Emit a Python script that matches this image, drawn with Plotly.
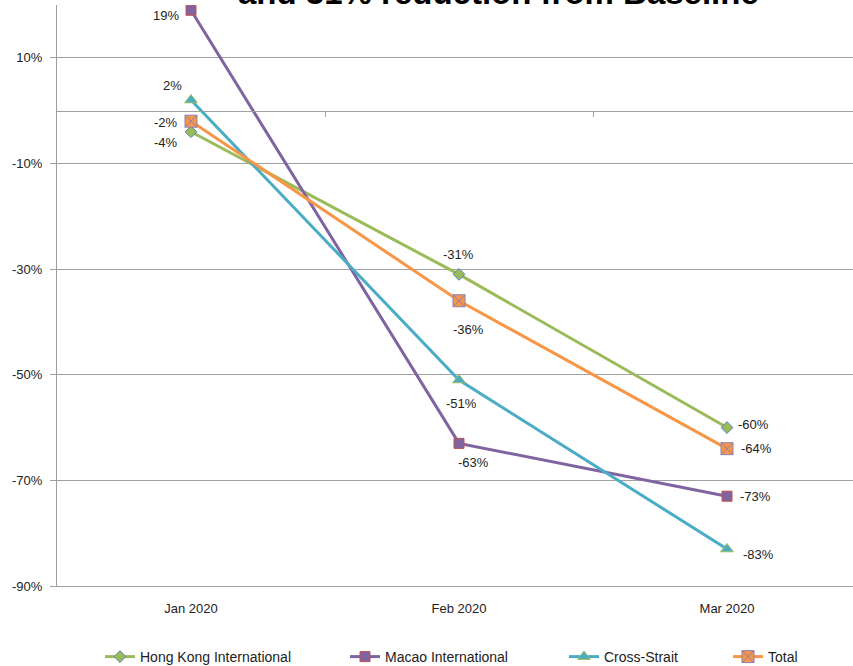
import plotly.graph_objects as go

months = ["Jan 2020", "Feb 2020", "Mar 2020"]
hong_kong = [-4, -31, -60]
macao = [19, -63, -73]
cross_strait = [2, -51, -83]
total = [-2, -36, -64]
y_ticks = [10, -10, -30, -50, -70, -90]
title_text = "and 31% reduction from Baseline"

series = [
    dict(name="Hong Kong International", y=hong_kong, color="#9BBB59",
         symbol="diamond", msize=9, mfill="#9BBB59", mline="#4F81BD",
         offsets=[(-25, -11), (-1, 20), (26, 3)]),
    dict(name="Macao International", y=macao, color="#8064A2",
         symbol="square", msize=10, mfill="#8064A2", mline="#C0504D",
         offsets=[(-25, -5), (14, -19), (28, 0)]),
    dict(name="Cross-Strait", y=cross_strait, color="#4BACC6",
         symbol="triangle-up", msize=11, mfill="#4BACC6", mline="#9BBB59",
         offsets=[(-19, 15), (2, -23), (31, -5)]),
    dict(name="Total", y=total, color="#F79646",
         symbol="square-x", msize=12, mfill="#F79646", mline="#8A7FB8",
         offsets=[(-25, -1), (9, -29), (29, 0)]),
]
legend_left_px = [100, 345, 564, 728]

W, H = 853, 666
ML, MR, MT, MB = 57, 0, 5, 80
pw = W - ML - MR
ph = H - MT - MB
x_lo = -0.5
x_hi = x_lo + pw / 268.0
y_lo, y_hi = -90, 20

fig = go.Figure()
annotations = []
font_family = "Liberation Sans, Arial, sans-serif"
for i, s in enumerate(series):
    lname = "legend" if i == 0 else f"legend{i+1}"
    fig.add_trace(go.Scatter(
        x=months, y=s["y"], name=s["name"], mode="lines+markers",
        line=dict(color=s["color"], width=3),
        marker=dict(symbol=s["symbol"], size=s["msize"], color=s["mfill"],
                    line=dict(color=s["mline"], width=1)),
        legend=lname, hoverinfo="x+y+name",
    ))
    for m, v, (dx, dy) in zip(months, s["y"], s["offsets"]):
        annotations.append(dict(
            x=m, y=v, xref="x", yref="y", text=f"{v}%", showarrow=False,
            xshift=dx, yshift=dy, xanchor="center", yanchor="middle",
            font=dict(size=13, color="#222", family=font_family),
        ))

annotations.append(dict(
    x=(498 - ML) / pw, y=(H - MB - 13) / ph, xref="paper", yref="paper",
    text=f"<b>{title_text}</b>", showarrow=False, xanchor="center", yanchor="bottom",
    font=dict(size=33, color="#000", family=font_family),
))

legend_y = (H - MB - 657) / ph
legend_cfg = {}
for i, lx in enumerate(legend_left_px):
    key = "legend" if i == 0 else f"legend{i+1}"
    legend_cfg[key] = dict(
        x=(lx - ML) / pw, y=legend_y, xanchor="left", yanchor="middle",
        orientation="h", bgcolor="rgba(0,0,0,0)", itemwidth=30,
        font=dict(size=14, color="#222", family=font_family),
    )

grid_col = "#A0A0A0"
fig.update_layout(
    width=W, height=H,
    margin=dict(l=ML, r=MR, t=MT, b=MB, autoexpand=False),
    plot_bgcolor="white", paper_bgcolor="white",
    showlegend=True,
    annotations=annotations,
    xaxis=dict(type="category", range=[x_lo, x_hi], showgrid=False,
               showline=True, linecolor=grid_col, linewidth=1,
               ticks="", ticklabelstandoff=10, automargin=False,
               tickfont=dict(size=13, color="#222", family=font_family)),
    xaxis2=dict(overlaying="x", anchor="free",
                position=(0 - y_lo) / (y_hi - y_lo), range=[x_lo, x_hi],
                tickvals=[0.5, 1.5], ticks="outside", ticklen=5, tickcolor=grid_col,
                showticklabels=False, showgrid=False, zeroline=False,
                showline=True, linecolor=grid_col, linewidth=1, side="bottom"),
    yaxis=dict(range=[y_lo, y_hi], tickvals=y_ticks,
               ticktext=[f"{t}%" for t in y_ticks],
               showgrid=True, gridcolor=grid_col, gridwidth=1,
               zeroline=False, showline=True, linecolor=grid_col, linewidth=1,
               ticks="outside", ticklen=6, tickcolor=grid_col,
               ticklabelstandoff=5, automargin=False,
               tickfont=dict(size=13, color="#222", family=font_family)),
    **legend_cfg,
)
# invisible trace to activate xaxis2
fig.add_trace(go.Scatter(x=[x_lo], y=[y_lo], xaxis="x2", mode="markers",
                         marker=dict(opacity=0), showlegend=False, hoverinfo="skip"))

fig.write_html(
    "out.html",
    config={"displayModeBar": False},
    post_script="document.body.style.margin='0';document.body.style.overflow='hidden';",
)
